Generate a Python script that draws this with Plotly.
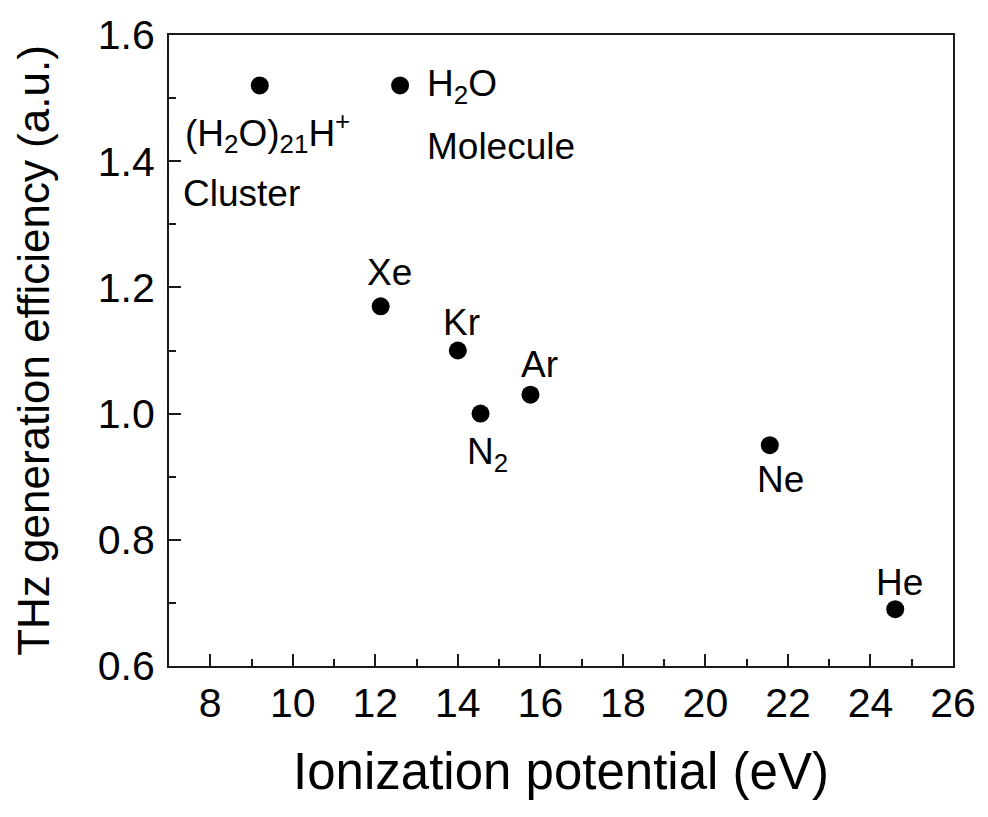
import plotly.graph_objects as go

# Data
species = ["(H<sub>2</sub>O)<sub>21</sub>H<sup>+</sup>", "H<sub>2</sub>O", "Xe", "Kr", "N<sub>2</sub>", "Ar", "Ne", "He"]
ionization_ev = [9.2, 12.6, 12.13, 14.0, 14.55, 15.76, 21.56, 24.6]
thz_efficiency = [1.52, 1.52, 1.17, 1.10, 1.00, 1.03, 0.95, 0.69]
sub_labels = ["Cluster", "Molecule", "", "", "", "", "", ""]

x_ticks = [8, 10, 12, 14, 16, 18, 20, 22, 24, 26]
y_ticks = [0.6, 0.8, 1.0, 1.2, 1.4, 1.6]
y_tick_text = ["0.6", "0.8", "1.0", "1.2", "1.4", "1.6"]

FONT = "Liberation Sans, Arial, Helvetica, sans-serif"
LABEL_SIZE = 37

fig = go.Figure()
fig.add_trace(go.Scatter(
    x=ionization_ev, y=thz_efficiency, mode="markers",
    marker=dict(size=18, color="black", line=dict(width=0)),
    showlegend=False, hoverinfo="skip",
))

# label placement (pixel offsets from each point): xanchor, xshift, yanchor, yshift
placement = {
    "(H<sub>2</sub>O)<sub>21</sub>H<sup>+</sup>": ("left", -77, "middle", -47),
    "H<sub>2</sub>O": ("left", 25, "middle", -1),
    "Xe": ("center", 9, "middle", 34),
    "Kr": ("center", 4, "middle", 28),
    "N<sub>2</sub>": ("left", -16, "middle", -40),
    "Ar": ("center", 9, "middle", 30),
    "Ne": ("center", 11, "middle", -34),
    "He": ("center", 4, "middle", 27),
}
sub_offsets = {"Cluster": (-79, -108), "Molecule": (25, -61)}

annotations = []
for name, xv, yv, sub in zip(species, ionization_ev, thz_efficiency, sub_labels):
    xa, xs, ya, ys = placement[name]
    annotations.append(dict(
        x=xv, y=yv, xref="x", yref="y", text=name, showarrow=False,
        xanchor=xa, yanchor=ya, xshift=xs, yshift=ys,
        font=dict(family=FONT, size=LABEL_SIZE, color="black"),
    ))
    if sub:
        sxs, sys_ = sub_offsets[sub]
        annotations.append(dict(
            x=xv, y=yv, xref="x", yref="y", text=sub, showarrow=False,
            xanchor="left", yanchor="middle", xshift=sxs, yshift=sys_,
            font=dict(family=FONT, size=LABEL_SIZE, color="black"),
        ))

axis_common = dict(
    showline=True, linecolor="#1a1a1a", linewidth=2, mirror=True,
    ticks="inside", ticklen=12, tickwidth=2, tickcolor="#1a1a1a",
    showgrid=False, zeroline=False,
    tickfont=dict(family=FONT, size=41, color="black"),
)

fig.update_layout(
    width=988, height=817,
    margin=dict(l=169, r=33, t=34, b=151),
    paper_bgcolor="white", plot_bgcolor="white",
    annotations=annotations,
    xaxis=dict(
        range=[7, 26], tickvals=x_ticks, ticktext=[str(v) for v in x_ticks],
        minor=dict(dtick=1, tick0=7, ticks="inside", ticklen=7, tickwidth=2, tickcolor="#1a1a1a"),
        title=dict(text="Ionization potential (eV)", font=dict(family=FONT, size=51, color="black"), standoff=28),
        ticklabelstandoff=0,
        **axis_common,
    ),
    yaxis=dict(
        range=[0.6, 1.6], tickvals=y_ticks, ticktext=y_tick_text,
        minor=dict(dtick=0.1, tick0=0.6, ticks="inside", ticklen=7, tickwidth=2, tickcolor="#1a1a1a"),
        title=dict(text="THz generation efficiency (a.u.)", font=dict(family=FONT, size=44, color="black"), standoff=34),
        ticklabelstandoff=4,
        **axis_common,
    ),
)

fig.write_html("out.html")
